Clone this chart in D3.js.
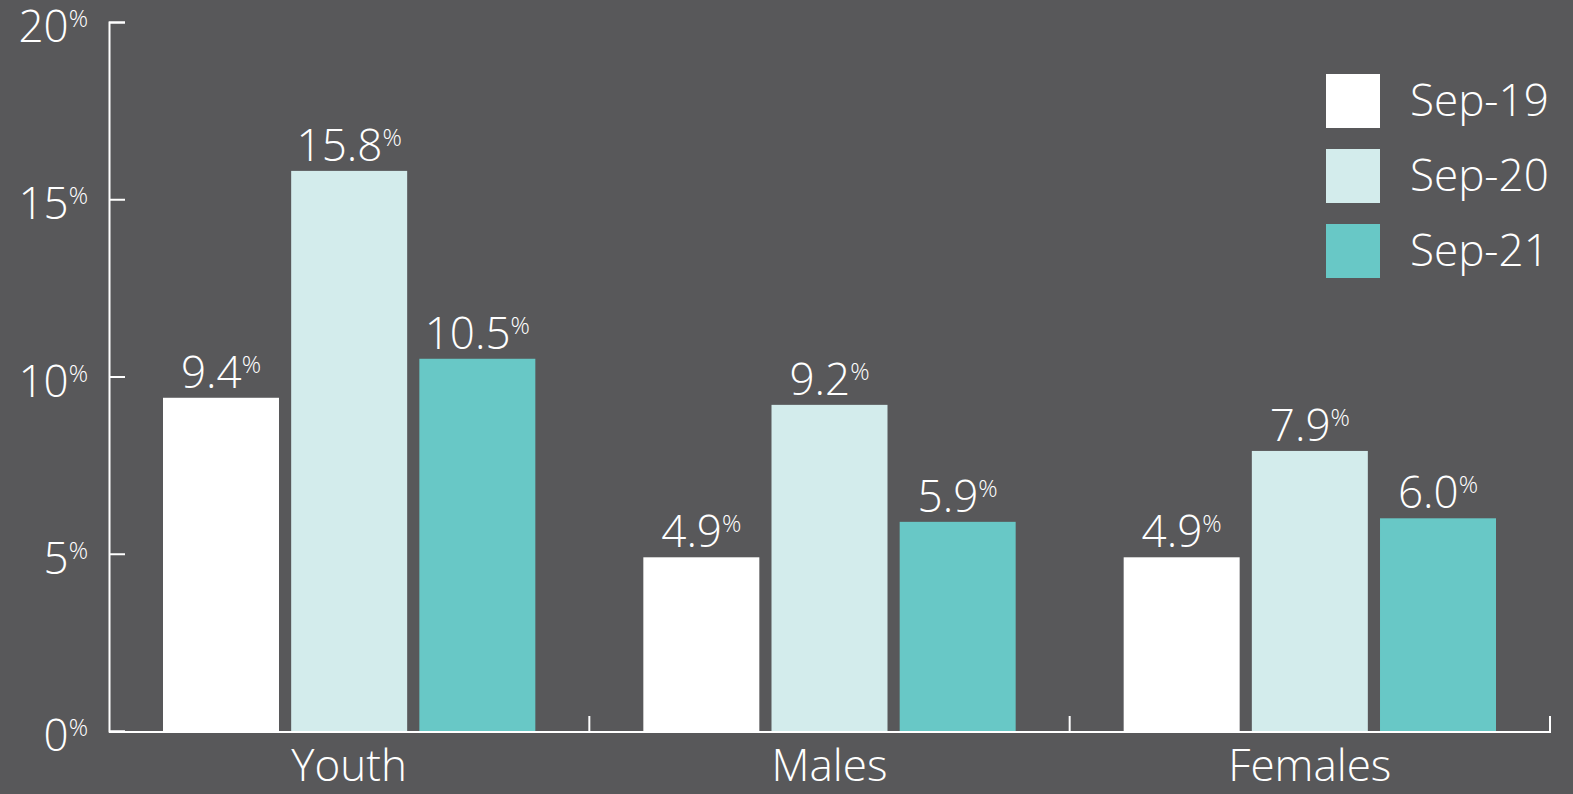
<!DOCTYPE html>
<html>
<head>
<meta charset="utf-8">
<script src="https://cdn.jsdelivr.net/npm/d3@7"></script>
<style>
  html, body { margin: 0; padding: 0; background: #58585a; }
  svg { display: block; }
  text { font-family: "Open Sans", sans-serif; font-weight: 300; fill: #fff; }
</style>
</head>
<body>
<script>

    var groups = ["Youth", "Males", "Females"];
    var periods = ["Sep-19", "Sep-20", "Sep-21"];
    var colors = ["#ffffff", "#d3ecec", "#68c8c6"];
    var yTicks = [0, 5, 10, 15, 20];

    // one array per period, in groups order
    var sep19 = [9.4, 4.9, 4.9];
    var sep20 = [15.8, 9.2, 7.9];
    var sep21 = [10.5, 5.9, 6.0];
    var series = [sep19, sep20, sep21];

    var W = 1573, H = 794;

    var svg = d3.select("body").append("svg")
        .attr("width", W)
        .attr("height", H);

    var x0 = d3.scaleBand()
        .domain(groups)
        .range([109, 1550]);

    var x1 = d3.scaleBand()
        .domain(periods)
        .range([54, x0.bandwidth() - 54])
        .paddingInner(0.095);

    var y = d3.scaleLinear()
        .domain([0, 20])
        .range([731, 22]);

    var color = d3.scaleOrdinal().domain(periods).range(colors);

    // bars
    var g = svg.selectAll(".grp")
        .data(groups)
        .enter().append("g")
        .attr("class", "grp")
        .attr("transform", function(d) { return "translate(" + x0(d) + ",0)"; });

    var cells = g.selectAll(".bar")
        .data(function(d, i) {
            return periods.map(function(p, j) { return {period: p, value: series[j][i]}; });
        })
        .enter();

    cells.append("rect")
        .attr("x", function(d) { return x1(d.period); })
        .attr("y", function(d) { return y(d.value); })
        .attr("width", x1.bandwidth())
        .attr("height", function(d) { return y(0) - y(d.value); })
        .attr("fill", function(d) { return color(d.period); });

    var lab = cells.append("text")
        .attr("x", function(d) { return x1(d.period) + x1.bandwidth() / 2; })
        .attr("y", function(d) { return y(d.value) - 10; })
        .attr("text-anchor", "middle")
        .style("font-size", "44px");
    lab.append("tspan").text(function(d) { return d.value.toFixed(1); });
    lab.append("tspan").attr("dy", -15).style("font-size", "24px").text("%");

    // y axis
    var yAxis = d3.axisLeft(y).tickValues(yTicks).tickSize(-16).tickFormat("");
    var ya = svg.append("g").attr("transform", "translate(109,0)").call(yAxis);
    ya.select(".domain").attr("stroke", "#fff").attr("stroke-width", 2);
    ya.selectAll(".tick line").attr("stroke", "#fff").attr("stroke-width", 2);

    var yl = svg.selectAll(".ylab")
        .data(yTicks)
        .enter().append("text")
        .attr("x", 88)
        .attr("y", function(d) { return y(d) + 20; })
        .attr("text-anchor", "end")
        .style("font-size", "44px");
    yl.append("tspan").text(function(d) { return d; });
    yl.append("tspan").attr("dy", -15).style("font-size", "24px").text("%");

    // x axis
    svg.append("line")
        .attr("x1", 109).attr("x2", x0.range()[1] + 1)
        .attr("y1", y(0) + 1).attr("y2", y(0) + 1)
        .attr("stroke", "#fff").attr("stroke-width", 2);

    svg.selectAll(".xtick")
        .data(groups.slice(1).map(function(d) { return x0(d); }).concat([x0.range()[1]]))
        .enter().append("line")
        .attr("x1", function(d) { return d; })
        .attr("x2", function(d) { return d; })
        .attr("y1", y(0) + 1).attr("y2", y(0) - 15)
        .attr("stroke", "#fff").attr("stroke-width", 2);

    svg.selectAll(".xlab")
        .data(groups)
        .enter().append("text")
        .attr("x", function(d) { return x0(d) + x0.bandwidth() / 2; })
        .attr("y", 781)
        .attr("text-anchor", "middle")
        .style("font-size", "44px")
        .text(function(d) { return d; });

    // legend
    var leg = svg.selectAll(".leg")
        .data(periods)
        .enter().append("g")
        .attr("transform", function(d, i) { return "translate(1326," + (74 + i * 75) + ")"; });

    leg.append("rect")
        .attr("width", 54).attr("height", 54)
        .attr("fill", function(d) { return color(d); });

    leg.append("text")
        .attr("x", 84)
        .attr("y", 42)
        .style("font-size", "44px")
        .text(function(d) { return d; });

</script>
</body>
</html>
